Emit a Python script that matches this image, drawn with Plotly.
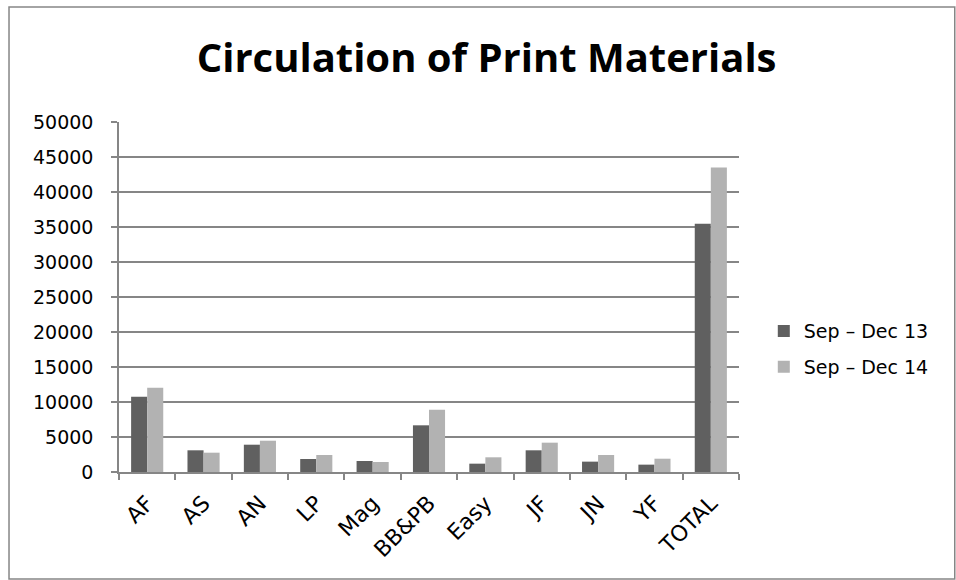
import plotly.graph_objects as go

categories = ["AF", "AS", "AN", "LP", "Mag", "BB&PB", "Easy", "JF", "JN", "YF", "TOTAL"]
sep_dec_13 = [10750, 3100, 3900, 1860, 1570, 6670, 1190, 3100, 1480, 1050, 35480]
sep_dec_14 = [12050, 2760, 4470, 2430, 1430, 8900, 2100, 4190, 2430, 1900, 43500]
y_ticks = [0, 5000, 10000, 15000, 20000, 25000, 30000, 35000, 40000, 45000, 50000]

TXT_FONT = "DejaVu Sans"
GRAY = "#868686"

fig = go.Figure()
fig.add_trace(go.Bar(name="Sep \u2013 Dec 13", x=categories, y=sep_dec_13,
                     legendgroup="a",
                     marker=dict(color="#606060", line=dict(width=0))))
fig.add_trace(go.Bar(name="Sep \u2013 Dec 14", x=categories, y=sep_dec_14,
                     legendgroup="b",
                     marker=dict(color="#b2b2b2", line=dict(width=0))))

fig.update_layout(
    width=956, height=580,
    margin=dict(l=119, r=217, t=122, b=108),
    paper_bgcolor="white", plot_bgcolor="white",
    barmode="group", bargap=0.43, bargroupgap=0,
    font=dict(family=TXT_FONT, size=19, color="black"),
    title=dict(text="<b>Circulation of Print Materials</b>",
               font=dict(family="Open Sans", size=40, color="black"),
               x=0.509, xref="container", xanchor="center",
               y=0.9, yref="container", yanchor="middle"),
    legend=dict(x=1.04, xanchor="left", y=0.351, yanchor="middle",
                font=dict(family=TXT_FONT, size=19, color="black"),
                tracegroupgap=8, itemsizing="constant",
                bgcolor="rgba(0,0,0,0)"),
    showlegend=True,
)

fig.update_xaxes(
    type="category",
    tickangle=-45,
    tickson="boundaries",
    ticks="outside", ticklen=6, tickcolor=GRAY, tickwidth=1.5,
    ticklabelstandoff=8,
    showline=True, linecolor=GRAY, linewidth=1.5,
    showgrid=False,
    tickfont=dict(family=TXT_FONT, size=22, color="black"),
)
fig.update_yaxes(
    range=[0, 50000],
    tickvals=y_ticks,
    ticktext=[str(v) for v in y_ticks],
    ticks="outside", ticklen=6, tickcolor=GRAY, tickwidth=1.5,
    ticklabelstandoff=14,
    showline=True, linecolor=GRAY, linewidth=1.5,
    showgrid=True, gridcolor=GRAY, gridwidth=1.5,
    zeroline=False,
    tickfont=dict(family=TXT_FONT, size=19, color="black"),
)

# outer chart frame
fig.add_shape(type="rect", xref="paper", yref="paper",
              x0=-0.1774, x1=1.348, y0=-0.3057, y1=1.3286,
              line=dict(color=GRAY, width=1.5), layer="below")

fig.write_html("out.html",
               config={"displayModeBar": False},
               post_script="document.body.style.margin='0';document.body.style.overflow='hidden';")
